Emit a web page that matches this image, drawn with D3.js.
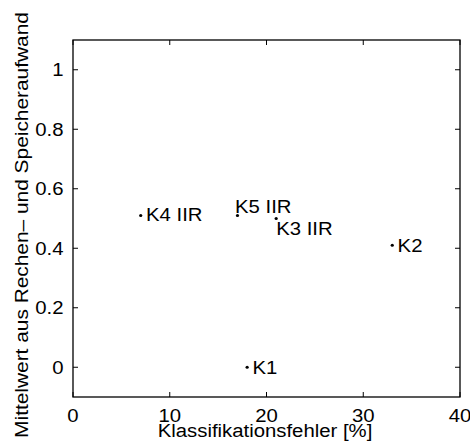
<!DOCTYPE html>
<html><head><meta charset="utf-8">
<script src="https://cdn.jsdelivr.net/npm/d3@7/dist/d3.min.js"></script>
<style>body{margin:0;background:#fff}svg{display:block}text{font-family:"Liberation Sans",Arial,Helvetica,sans-serif;fill:#000}</style>
</head><body>
<script>
const names = ["K1","K2","K3 IIR","K4 IIR","K5 IIR"];
const errorPct = [18, 33, 21, 7, 17];
const effort = [0, 0.41, 0.50, 0.51, 0.51];
const labelX = [18.55, 33.55, 21.0, 7.55, 16.75];
const labelY = [0, 0.41, 0.466, 0.514, 0.541];
const xTicks = [0, 10, 20, 30, 40];
const yTicks = [0, 0.2, 0.4, 0.6, 0.8, 1];
const xLabel = "Klassifikationsfehler [%]";
const yLabel = "Mittelwert aus Rechen\u2013 und Speicheraufwand";

const W = 470, H = 446, FS = 18, SX = 1.13;
const L = 73, R = 460, T = 40, B = 397;
const x = d3.scaleLinear().domain([0, 40]).range([L, R]);
const y = d3.scaleLinear().domain([-0.1, 1.1]).range([B, T]);

const svg = d3.select("body").append("svg").attr("width", W).attr("height", H);

function txt(s, tx, ty, anchor, rot, sx) {
  return svg.append("text").text(s)
    .attr("text-anchor", anchor)
    .style("font-size", FS + "px")
    .attr("transform", `translate(${tx},${ty})` + (rot ? ` rotate(${rot})` : "") + ` scale(${sx || SX},1)`);
}

// ticks (inward, all four sides)
const tl = 5;
xTicks.forEach(v => {
  const px = x(v);
  svg.append("line").attr("x1", px).attr("x2", px).attr("y1", B).attr("y2", B - tl).attr("stroke", "#000");
  svg.append("line").attr("x1", px).attr("x2", px).attr("y1", T).attr("y2", T + tl).attr("stroke", "#000");
  txt(d3.format("d")(v), px, 422.3, "middle");
});
yTicks.forEach(v => {
  const py = y(v);
  svg.append("line").attr("x1", L).attr("x2", L + tl).attr("y1", py).attr("y2", py).attr("stroke", "#000");
  svg.append("line").attr("x1", R).attr("x2", R - tl).attr("y1", py).attr("y2", py).attr("stroke", "#000");
  txt(String(v), 63.5, py + 6.4, "end");
});

// box
svg.append("rect").attr("x", L).attr("y", T).attr("width", R - L).attr("height", B - T)
  .attr("fill", "none").attr("stroke", "#000").attr("stroke-width", 1.3);

// points
names.forEach((n, i) => {
  svg.append("circle").attr("cx", x(errorPct[i])).attr("cy", y(effort[i])).attr("r", 1.6).attr("fill", "#000");
  txt(n, x(labelX[i]), y(labelY[i]) + 6.4, "start");
});

txt(xLabel, 265, 436.5, "middle");
txt(yLabel, 28, 225, "middle", -90, 1.16);
</script>
</body></html>
